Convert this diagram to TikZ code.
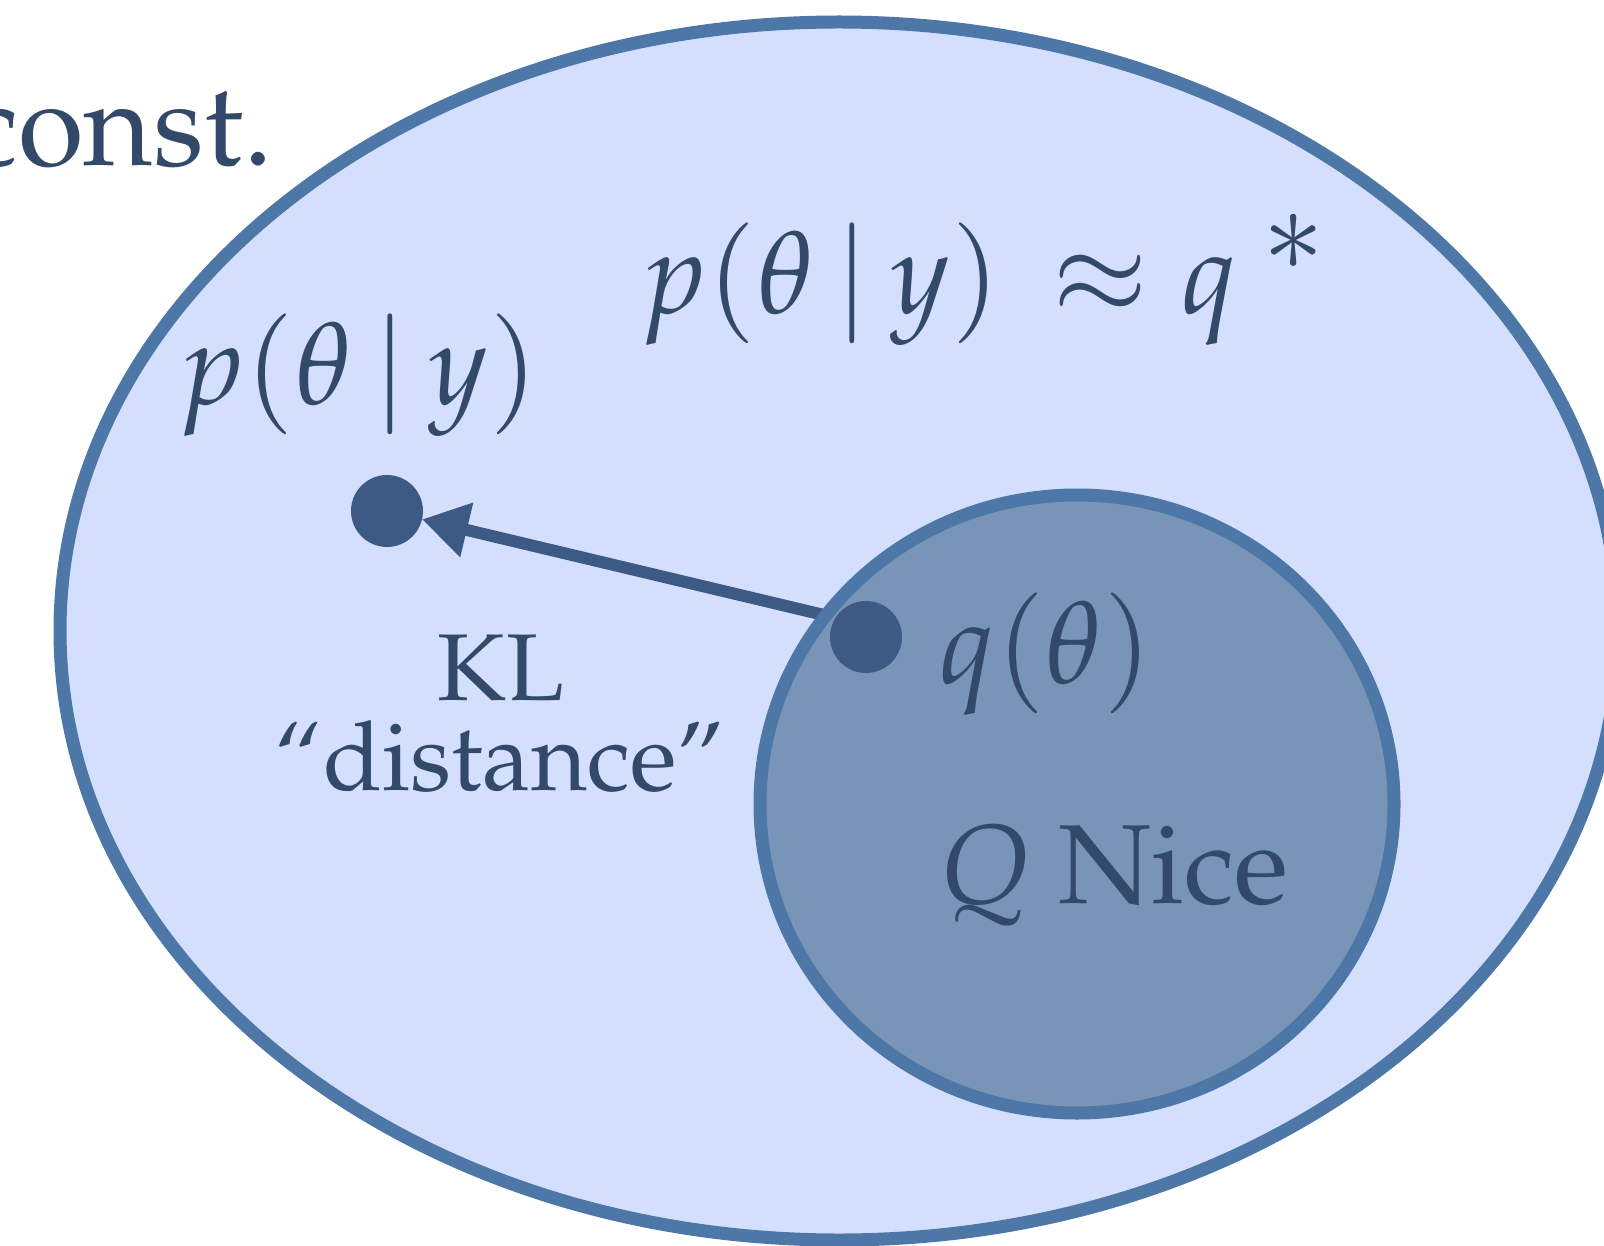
\documentclass[tikz,border=0pt]{standalone}
\usepackage[T1]{fontenc}
\usepackage{mathpazo}
\usetikzlibrary{arrows.meta}
\definecolor{bigfill}{HTML}{D4DFFD}
\definecolor{rimcol}{HTML}{4C77A7}
\definecolor{smallfill}{HTML}{7895B8}
\definecolor{dotcol}{HTML}{3D5A84}
\definecolor{txtcol}{HTML}{33496A}
\tikzset{
  dotnode/.style={circle, fill=dotcol, draw=none, minimum size=1.44cm, inner sep=0pt, outer sep=0pt},
  lbl/.style={text=txtcol, inner sep=0pt, outer sep=0pt},
  rim/.style={draw=rimcol, line width=0.26cm},
  klarrow/.style={draw=dotcol, line width=0.24cm, -{Triangle[length=0.92cm, width=1.06cm]}},
}
\begin{document}
\begin{tikzpicture}[x=0.02cm, y=-0.02cm]
\useasboundingbox (0,0) rectangle (1604,1246);
\fill[white] (0,0) rectangle (1604,1246);
% big set
\draw[rim, fill=bigfill] (839,631) ellipse [x radius=779, y radius=609];
% dots
\node[dotnode] (d1) at (387,511) {};
\node[dotnode] (d2) at (866,637) {};
\coordinate (s) at (866,625);
% arrow
\draw[klarrow] (s) -- (d1);
% nice family Q
\draw[rim, fill=smallfill] (1077,804) ellipse [x radius=317, y radius=309];
\node[dotnode] at (d2.center) {};
% labels
\node[lbl, anchor=base east] (const) at (273,166) {\fontsize{68}{78}\selectfont const.};
\node[lbl, anchor=west] (post) at (178,375) {\fontsize{66}{76}\selectfont $p(\theta\,|\,y)$};
\node[lbl, anchor=west] (approx) at (640,280) {\fontsize{66}{76}\selectfont $p(\theta\,|\,y)\,\approx q^{\;\textstyle *}$};
\node[lbl, anchor=west] (qth) at (939,654) {\fontsize{66}{76}\selectfont $q(\theta)$};
\node[lbl, anchor=base] (kl) at (501,700) {\fontsize{54}{60}\selectfont KL};
\node[lbl, anchor=base] (dist) at (500,790) {\fontsize{55}{60}\selectfont ``distance''};
\node[lbl, anchor=base west] (qnice) at (939,903) {\fontsize{64}{74}\selectfont $Q$ Nice};
\end{tikzpicture}
\end{document}
